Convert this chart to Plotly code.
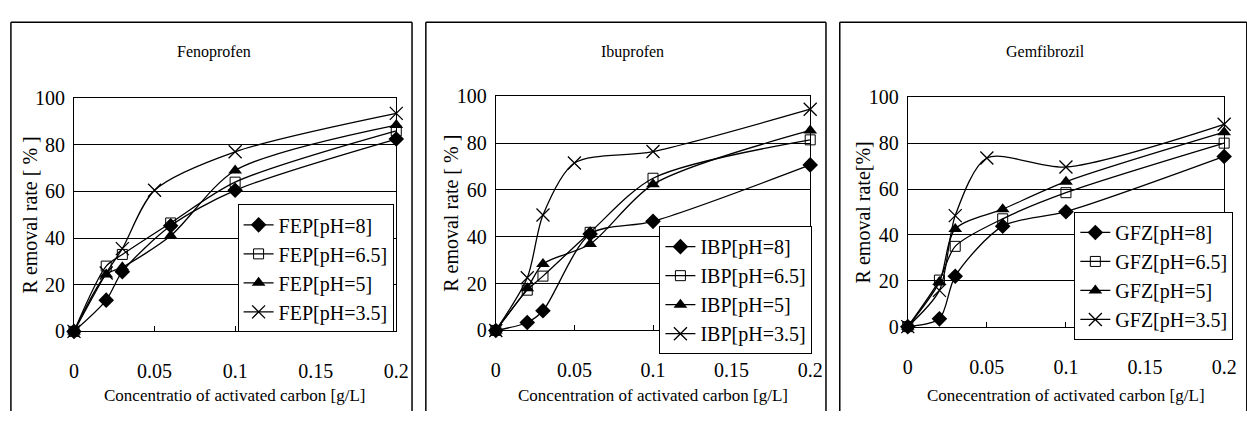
import plotly.graph_objects as go

W, H = 1247, 422

x_std = [0, 0.02, 0.03, 0.06, 0.1, 0.2]
x_35 = [0, 0.02, 0.03, 0.05, 0.1, 0.2]

# Fenoprofen
fep_8 = [0, 13.4, 25.6, 45.3, 60.5, 82.5]
fep_65 = [0, 28, 33, 46.5, 64, 86]
fep_5 = [0, 24.4, 27.5, 41, 69, 88.5]
fep_35 = [0, 25, 35.5, 60.5, 77, 93.5]
# Ibuprofen
ibp_8 = [0, 3.4, 8.4, 41.2, 46.6, 70.7]
ibp_65 = [0, 17.2, 23.2, 41.9, 65, 81.4]
ibp_5 = [0, 18, 28.4, 36.9, 62.4, 85.4]
ibp_35 = [0, 22.5, 49.3, 71.5, 76.4, 94.5]
# Gemfibrozil
gfz_8 = [0, 3.4, 22, 43.8, 50.1, 74.2]
gfz_65 = [0, 20.3, 35, 47, 58.4, 80]
gfz_5 = [0, 19.5, 42.6, 51.2, 63.2, 84.8]
gfz_35 = [0, 15.8, 48.4, 73.5, 69.6, 88.2]

ph_labels = ["pH=8", "pH=6.5", "pH=5", "pH=3.5"]
titles = ["Fenoprofen", "Ibuprofen", "Gemfibrozil"]
prefixes = ["FEP", "IBP", "GFZ"]
xtitles = ["Concentratio of activated carbon [g/L]",
           "Concentration of activated carbon [g/L]",
           "Conecentration of activated carbon [g/L]"]
ytitles = ["R emoval rate [ % ]", "R emoval rate [ % ]", "R emoval rate[%]"]
y_ticks = [0, 20, 40, 60, 80, 100]
x_ticks = [0, 0.05, 0.1, 0.15, 0.2]
x_tick_text = ["0", "0.05", "0.1", "0.15", "0.2"]

data = [
    [(x_std, fep_8), (x_std, fep_65), (x_std, fep_5), (x_35, fep_35)],
    [(x_std, ibp_8), (x_std, ibp_65), (x_std, ibp_5), (x_35, ibp_35)],
    [(x_std, gfz_8), (x_std, gfz_65), (x_std, gfz_5), (x_35, gfz_35)],
]

# pixel layout
plots = [  # x0, x1, ytop, ybot
    (70, 397, 92, 338),
    (498, 817, 90, 337),
    (916, 1237, 91, 333),
]
boxes = [(6, 413), (427, 833), (847, 1260)]
legpos = [(236, 204), (664, 227), (1085, 212)]

symbols = [
    dict(symbol="diamond", size=12, color="black", line=dict(color="black", width=0)),
    dict(symbol="square-open", size=10, color="black", line=dict(color="black", width=1)),
    dict(symbol="triangle-up", size=12, color="black", line=dict(color="black", width=0)),
    dict(symbol="x-thin-open", size=13, color="black", line=dict(color="black", width=1.3)),
]

FONT = "Liberation Serif"

def px(x):
    return x / W

def py(y):
    return 1 - y / H

fig = go.Figure()
shapes = []
annotations = []

for i in range(3):
    x0, x1, yt, yb = plots[i]
    xa = "xaxis" if i == 0 else f"xaxis{i+1}"
    ya = "yaxis" if i == 0 else f"yaxis{i+1}"
    xref = "x" if i == 0 else f"x{i+1}"
    yref = "y" if i == 0 else f"y{i+1}"
    leg = "legend" if i == 0 else f"legend{i+1}"
    for j in range(4):
        xs, ys = data[i][j]
        fig.add_trace(go.Scatter(
            x=xs, y=ys, mode="lines+markers",
            name=f"{prefixes[i]}[{ph_labels[j]}]",
            line=dict(color="black", width=1.3, shape="spline", smoothing=0.8),
            marker=symbols[j], cliponaxis=False,
            xaxis=xref, yaxis=yref, legend=leg,
        ))
    fig.update_layout(**{
        xa: dict(domain=[px(x0), px(x1)], range=[0, 0.2], anchor=yref,
                 tickvals=x_ticks, ticktext=x_tick_text,
                 showgrid=False, zeroline=False,
                 showline=True, linecolor="black", linewidth=1, mirror=True,
                 ticks="inside", ticklen=5, tickcolor="black",
                 ticklabelstandoff=22,
                 tickfont=dict(family=FONT, size=20, color="black")),
        ya: dict(domain=[py(yb), py(yt)], range=[0, 100], anchor=xref,
                 tickvals=y_ticks, showgrid=True, gridcolor="black", gridwidth=1,
                 zeroline=False,
                 showline=True, linecolor="black", linewidth=1, mirror=True,
                 ticks="", ticklabelstandoff=4,
                 tickfont=dict(family=FONT, size=20, color="black")),
        leg: dict(x=px(legpos[i][0]), y=py(legpos[i][1]), xanchor="left", yanchor="top",
                  xref="paper", yref="paper",
                  bgcolor="white", bordercolor="black", borderwidth=1,
                  font=dict(family=FONT, size=20, color="black"),
                  tracegroupgap=0, itemwidth=30),
    })
    # outer panel frame (left, top, right only)
    bx0, bx1 = boxes[i]
    for (ax0, ay0, ax1, ay1) in [(bx0, 12, bx0, 422), (bx0, 12, bx1, 12), (bx1, 12, bx1, 422)]:
        shapes.append(dict(type="line", xref="paper", yref="paper",
                           x0=px(ax0), x1=px(ax1), y0=py(ay0), y1=py(ay1),
                           line=dict(color="black", width=1.5), layer="below"))
    # title
    annotations.append(dict(text=titles[i], xref="paper", yref="paper",
                            x=px((x0 + x1) / 2 - 21), y=py(43), showarrow=False,
                            xanchor="center", yanchor="middle",
                            font=dict(family=FONT, size=16, color="black")))
    # x title
    annotations.append(dict(text=xtitles[i], xref="paper", yref="paper",
                            x=px((x0 + x1) / 2), y=py(406), showarrow=False,
                            xanchor="center", yanchor="middle",
                            font=dict(family=FONT, size=17, color="black")))
    # y title
    annotations.append(dict(text=ytitles[i], xref="paper", yref="paper",
                            x=px(x0 - 45), y=py((yt + yb) / 2), showarrow=False,
                            textangle=-90, xanchor="center", yanchor="middle",
                            font=dict(family=FONT, size=20, color="black")))

fig.update_layout(
    width=W, height=H, margin=dict(l=0, r=0, t=0, b=0),
    paper_bgcolor="white", plot_bgcolor="white",
    shapes=shapes, annotations=annotations,
)

fig.write_html("out.html")
